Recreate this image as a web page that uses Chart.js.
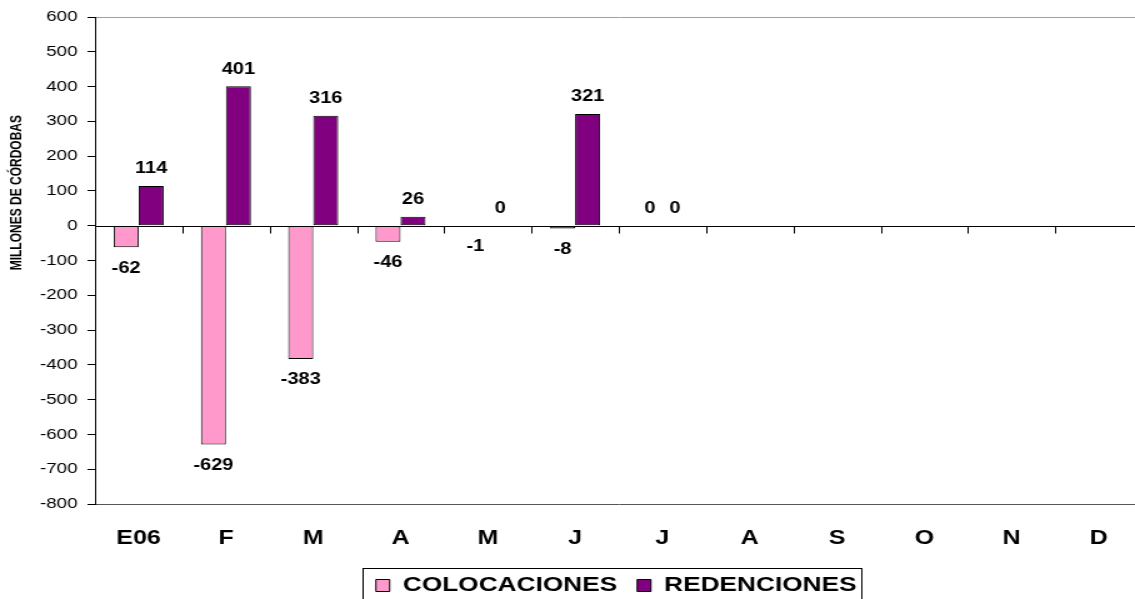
<!DOCTYPE html>
<html>
<head>
<meta charset="utf-8">
<script src="https://cdn.jsdelivr.net/npm/chart.js@4"></script>
<style>
html,body{margin:0;padding:0;overflow:hidden;background:#fff;width:1135px;height:599px;}
#wrap{position:absolute;left:0;top:0;width:920px;height:606px;transform:scaleX(1.25);transform-origin:0 0;}
canvas{display:block;}
</style>
</head>
<body>
<div id="wrap"><canvas id="c" width="920" height="606"></canvas></div>
<script>
const categories = ['E06','F','M','A','M','J','J','A','S','O','N','D'];
const colocaciones = [-62, -629, -383, -46, -1, -8, 0, null, null, null, null, null];
const redenciones = [114, 401, 316, 26, 0, 321, 0, null, null, null, null, null];
const seriesNames = ['COLOCACIONES', 'REDENCIONES'];
const yMin = -800, yMax = 600, yStep = 100;
const yTitle = 'MILLONES DE CÓRDOBAS';

const FONT = '"Liberation Sans", Arial, sans-serif';
const LEGEND_PAD = 16;

const valueLabels = {
  id: 'valueLabels',
  afterDatasetsDraw(chart) {
    const ctx = chart.ctx;
    const x = chart.scales.x, y = chart.scales.y;
    const y0 = Math.round(y.getPixelForValue(0)) + 0.5;
    ctx.save();
    ctx.strokeStyle = '#000';
    ctx.lineWidth = 1;
    ctx.beginPath();
    ctx.moveTo(chart.chartArea.left, y0);
    ctx.lineTo(chart.chartArea.right, y0);
    const n = categories.length;
    const cw = (x.getPixelForValue(1) - x.getPixelForValue(0));
    for (let i = 1; i <= n; i++) {
      const px = Math.round(x.getPixelForValue(i) - cw / 2) + 0.5;
      ctx.moveTo(px, y0);
      ctx.lineTo(px, y0 + 7);
    }
    ctx.stroke();
    ctx.font = 'bold 16px ' + FONT;
    ctx.fillStyle = '#000';
    ctx.textAlign = 'center';
    ctx.textBaseline = 'middle';
    chart.data.datasets.forEach((ds, i) => {
      const meta = chart.getDatasetMeta(i);
      meta.data.forEach((bar, j) => {
        const v = ds.data[j];
        if (v === null || v === undefined) return;
        const ly = v >= 0 ? bar.y - 17 : bar.y + 21;
        ctx.fillText(String(v), bar.x, ly);
      });
    });
    ctx.restore();
  }
};

const axisTitle = {
  id: 'axisTitle',
  afterDraw(chart) {
    const y = chart.scales.y;
    const ctx = chart.ctx;
    ctx.save();
    ctx.translate(14, y.getPixelForValue(95));
    ctx.rotate(-Math.PI / 2);
    ctx.font = 'bold 12px ' + FONT;
    ctx.fillStyle = '#000';
    ctx.textAlign = 'center';
    ctx.textBaseline = 'middle';
    ctx.fillText(yTitle, 0, 0);
    ctx.restore();
  }
};

const legendShift = {
  id: 'legendShift',
  beforeDraw(chart) {
    const lg = chart.legend;
    const w = lg.right - lg.left;
    const c = 493;
    lg.left = c - w / 2;
    lg.right = c + w / 2;
  },
  afterDraw(chart) {
    const lg = chart.legend;
    const pad = lg.options.labels.padding;
    const lw = lg.lineWidths[0];
    const start = (lg.left + pad + lg.right - lw) / 2;
    const end = start + lw - pad;
    const ctx = chart.ctx;
    const top = lg.top + pad + 10.5 - 17.5;
    ctx.save();
    ctx.strokeStyle = '#000';
    ctx.lineWidth = 1;
    ctx.strokeRect(Math.round(start - 11) + 0.5, Math.round(top) + 0.5, Math.round(end - start + 14), 60);
    ctx.restore();
  }
};

new Chart(document.getElementById('c'), {
  type: 'bar',
  data: {
    labels: categories,
    datasets: [
      { label: seriesNames[0], data: colocaciones, backgroundColor: '#FF99CC', borderColor: '#000', borderWidth: 1, borderSkipped: false },
      { label: seriesNames[1], data: redenciones, backgroundColor: '#800080', borderColor: '#000', borderWidth: 1, borderSkipped: false }
    ]
  },
  options: {
    responsive: false,
    animation: false,
    devicePixelRatio: 1,
    layout: { padding: { top: 17, right: 6, left: 0, bottom: 0 } },
    datasets: { bar: { categoryPercentage: 0.573, barPercentage: 1.0 } },
    plugins: {
      tooltip: { enabled: false },
      legend: {
        position: 'bottom',
        labels: {
          font: { family: FONT, size: 21, weight: 'bold' },
          color: '#000',
          boxWidth: 11,
          boxHeight: 12,
          padding: LEGEND_PAD
        }
      }
    },
    scales: {
      x: {
        grid: { display: false, drawTicks: false },
        border: { display: false },
        ticks: { font: { family: FONT, size: 20, weight: 'bold' }, color: '#000', padding: 22, maxRotation: 0, autoSkip: false },
        afterFit(scale) { scale.height = 61 - (LEGEND_PAD - 10); }
      },
      y: {
        min: yMin, max: yMax,
        ticks: { stepSize: yStep, font: { family: FONT, size: 15 }, color: '#000', padding: 8 },
        grid: {
          drawTicks: true,
          tickLength: 6,
          tickColor: '#000',
          color: (ctx) => {
            if (ctx.tick && ctx.tick.value === yMax) return '#a0a0a0';
            if (ctx.tick && ctx.tick.value === yMin) return '#555';
            return 'rgba(0,0,0,0)';
          }
        },
        border: { display: true, color: '#000', width: 1 },
        title: { display: false },
        afterFit(scale) { scale.width = 76; }
      }
    }
  },
  plugins: [valueLabels, axisTitle, legendShift]
});
</script>
</body>
</html>
